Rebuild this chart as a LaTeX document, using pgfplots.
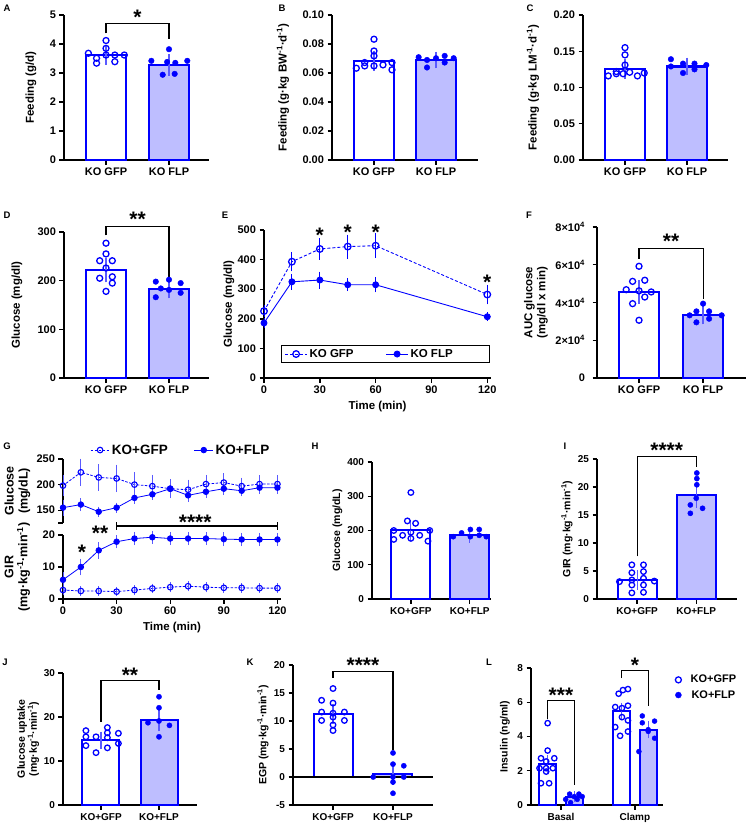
\documentclass[border=0pt]{standalone}
\usepackage{fontspec}
\setmainfont{Liberation Sans}
\usepackage{pgfplots}
\pgfplotsset{compat=1.18}
\definecolor{barfill}{RGB}{190,190,255}
\definecolor{semc}{RGB}{90,90,255}
\newcommand{\ftick}{\bfseries\fontsize{11}{12}\selectfont}
\newcommand{\fticks}{\bfseries\fontsize{10}{11}\selectfont}
\newcommand{\flab}{\bfseries\fontsize{11.5}{13}\selectfont}
\newcommand{\flabs}{\bfseries\fontsize{10.5}{12}\selectfont}
\newcommand{\inv}{\textsuperscript{-1}}
\pgfplotsset{
  gp/.style={scale only axis, clip=false, enlargelimits=false,
    axis x line*=bottom, axis y line*=left,
    axis line style={line width=1.4pt, -},
    every tick/.style={line width=1.4pt, black},
    major tick length=4.5pt, tick align=outside,
    /pgf/number format/assume math mode=true,
    scaled ticks=false,
    tick label style={font=\ftick},
    every axis y label/.style={rotate=90, anchor=center, align=center, font=\flab},
    every axis x label/.append style={font=\flab},
    anchor=south west},
  gps/.style={tick label style={font=\fticks}, every axis y label/.append style={font=\flabs}},
  gfpbar/.style={ybar, bar shift=0pt, draw=blue, fill=white, line width=2.2pt, forget plot},
  flpbar/.style={ybar, bar shift=0pt, draw=blue, fill=barfill, line width=2.2pt, forget plot},
  gfppts/.style={only marks, mark=o, mark size=#1, blue, mark options={line width=1.3pt}, forget plot},
  gfppts/.default=3pt,
  flppts/.style={only marks, mark=*, mark size=#1, blue, forget plot},
  flppts/.default=2.8pt,
  sem/.style={draw=none, mark=none, forget plot,
    error bars/y dir=both, error bars/y explicit,
    error bars/error bar style={draw=semc, line width=1.2pt, solid},
    error bars/error mark options={draw=semc, line width=1.2pt, mark size=#1, solid}},
  sem/.default=7pt,
}
\tikzset{stars/.style={anchor=north, inner sep=0pt, font=\bfseries\fontsize{21}{21}\selectfont},
  brk/.style={line width=1.1pt, black},
  plab/.style={font=\bfseries\fontsize{9.5}{10}\selectfont, inner sep=0pt, anchor=center}}
\begin{document}
\begin{tikzpicture}
\useasboundingbox (0,0) rectangle (748pt,-825pt);
% panel letters
\node[plab] at (7pt,-8pt) {A};
\node[plab] at (282pt,-8pt) {B};
\node[plab] at (530pt,-8pt) {C};
\node[plab] at (7pt,-215pt) {D};
\node[plab] at (225pt,-215pt) {E};
\node[plab] at (529pt,-215pt) {F};
\node[plab] at (7pt,-446pt) {G};
\node[plab] at (315pt,-446pt) {H};
\node[plab] at (565pt,-446pt) {I};
\node[plab] at (5pt,-662pt) {J};
\node[plab] at (250pt,-662pt) {K};
\node[plab] at (489pt,-662pt) {L};

% ---------- A ----------
\begin{axis}[gp, at={(64pt,-160pt)}, width=145pt, height=145pt,
  xmin=-0.667, xmax=1.635, ymin=0, ymax=5, xtick={0,1}, xticklabels={KO GFP,KO FLP},
  ytick={0,1,2,3,4,5}, ylabel={Feeding (g/d)}, ylabel style={at={(axis description cs:-0.228,0.5)}}]
\addplot[gfpbar, bar width=40pt] coordinates {(0,3.62)};
\addplot[flpbar, bar width=40pt] coordinates {(1,3.28)};
\addplot[sem] coordinates {(0,3.62) +- (0,0.09) (1,3.28) +- (0,0.13)};
\addplot[gfppts] coordinates {(-0.28,3.68) (-0.15,3.51) (-0.15,3.34) (0,4.12) (0,3.85) (0,3.62) (0.14,3.62) (0.14,3.39) (0.29,3.62)};
\addplot[flppts] coordinates {(0.72,3.42) (0.90,2.94) (1.0,3.82) (0.97,3.38) (1.09,2.97) (1.10,3.35) (1.29,3.42)};
\draw[brk] (axis cs:0,4.37) |- (axis cs:1,4.71) -- (axis cs:1,4.16);
\node[stars] at (axis cs:0.5,5.19) {*};
\end{axis}

% ---------- B ----------
\begin{axis}[gp, at={(332pt,-160pt)}, width=146pt, height=145pt,
  xmin=-0.677, xmax=1.677, ymin=0, ymax=0.1, xtick={0,1}, xticklabels={KO GFP,KO FLP},
  ytick={0,0.02,0.04,0.06,0.08,0.1}, yticklabels={0.00,0.02,0.04,0.06,0.08,0.10},
  ylabel={Feeding (g·kg BW\inv·d\inv)}, ylabel style={at={(axis description cs:-0.336,0.5)}}]
\addplot[gfpbar, bar width=40pt] coordinates {(0,0.0683)};
\addplot[flpbar, bar width=40pt] coordinates {(1,0.069)};
\addplot[sem] coordinates {(0,0.0683) +- (0,0.0022) (1,0.069) +- (0,0.001)};
\addplot[gfppts] coordinates {(0,0.0833) (0,0.0752) (0,0.0718) (-0.15,0.0672) (-0.285,0.0633) (-0.15,0.0649) (0,0.0649) (0.145,0.0656) (0.29,0.0672) (0.29,0.0622)};
\addplot[flppts] coordinates {(0.72,0.0709) (0.855,0.069) (0.855,0.0638) (1.0,0.0702) (1.14,0.0718) (1.14,0.0672) (1.285,0.0702)};
\end{axis}

% ---------- C ----------
\begin{axis}[gp, at={(583pt,-160pt)}, width=145pt, height=145pt,
  xmin=-0.677, xmax=1.66, ymin=0, ymax=0.2, xtick={0,1}, xticklabels={KO GFP,KO FLP},
  ytick={0,0.05,0.1,0.15,0.2}, yticklabels={0.00,0.05,0.10,0.15,0.20},
  ylabel={Feeding (g·kg LM\inv·d\inv)}, ylabel style={at={(axis description cs:-0.345,0.5)}}]
\addplot[gfpbar, bar width=40pt] coordinates {(0,0.1257)};
\addplot[flpbar, bar width=40pt] coordinates {(1,0.1289)};
\addplot[sem] coordinates {(0,0.1257) +- (0,0.004) (1,0.1289) +- (0,0.0025)};
\addplot[gfppts] coordinates {(0,0.155) (0,0.145) (0,0.131) (-0.14,0.122) (-0.27,0.116) (-0.14,0.119) (-0.03,0.119) (0.075,0.121) (0.2,0.116) (0.31,0.120)};
\addplot[flppts] coordinates {(0.74,0.139) (0.74,0.129) (0.935,0.133) (0.935,0.120) (1.12,0.133) (1.12,0.125) (1.31,0.131)};
\end{axis}

% ---------- D ----------
\begin{axis}[gp, at={(64pt,-378pt)}, width=145pt, height=146pt,
  xmin=-0.667, xmax=1.635, ymin=0, ymax=300, xtick={0,1}, xticklabels={KO GFP,KO FLP},
  ytick={0,100,200,300}, ylabel={Glucose (mg/dl)}, ylabel style={at={(axis description cs:-0.324,0.5)}}]
\addplot[gfpbar, bar width=40pt] coordinates {(0,222)};
\addplot[flpbar, bar width=40pt] coordinates {(1,183)};
\addplot[sem] coordinates {(0,222) +- (0,11) (1,183) +- (0,5)};
\addplot[gfppts] coordinates {(0,277) (0,255) (-0.1,241) (0.1,241) (0,226) (-0.1,205) (0.1,208) (0.1,195) (0,178)};
\addplot[flppts] coordinates {(0.79,198) (1.0,202) (1.185,195) (0.87,184) (1.0,181) (0.79,166) (1.185,175)};
\draw[brk] (axis cs:0,293) |- (axis cs:1,312) -- (axis cs:1,207);
\node[stars] at (axis cs:0.5,341) {**};
\end{axis}

% ---------- E ----------
\begin{axis}[gp, at={(264pt,-378pt)}, width=227pt, height=148pt,
  xmin=0, xmax=122, ymin=0, ymax=500, xtick={0,30,60,90,120}, ytick={0,100,200,300,400,500},
  xlabel={Time (min)}, ylabel={Glucose (mg/dl)}, ylabel style={at={(axis description cs:-0.154,0.5)}},
  legend style={at={(0.075,0.162)}, anchor=west, draw=black, line width=1.3pt, fill=white, font=\flab,
    legend columns=2, inner xsep=3pt, inner ysep=1.5pt, /tikz/every even column/.append style={column sep=30pt}},
  legend image code/.code={\draw[mark repeat=2, mark phase=2, #1] plot coordinates {(0pt,0pt) (11pt,0pt) (22pt,0pt)};}]
\addplot[blue, line width=0.9pt, dash pattern=on 3pt off 2pt, mark=o, mark size=3.3pt, mark options={solid, line width=1.3pt},
  error bars/.cd, y dir=both, y explicit, error bar style={solid, line width=1pt}, error mark options={solid, line width=1pt, mark size=3.5pt}]
  coordinates {(0,226) +- (0,8) (15,393) +- (0,21) (30,436) +- (0,24) (45,444) +- (0,29) (60,447) +- (0,30) (120,282) +- (0,21)};
\addlegendentry{KO GFP}
\addplot[blue, line width=0.9pt, mark=*, mark size=3pt,
  error bars/.cd, y dir=both, y explicit, error bar style={line width=1pt}, error mark options={line width=1pt, mark size=3.5pt}]
  coordinates {(0,186) +- (0,4) (15,325) +- (0,15) (30,331) +- (0,17) (45,315) +- (0,10) (60,315) +- (0,14) (120,207) +- (0,3)};
\addlegendentry{KO FLP\hspace*{32pt}}
\node[stars] at (axis cs:30,507) {*};
\node[stars] at (axis cs:45,519) {*};
\node[stars] at (axis cs:60,519) {*};
\node[stars] at (axis cs:120,348) {*};
\end{axis}

% ---------- F ----------
\begin{axis}[gp, at={(597pt,-378pt)}, width=149pt, height=151pt,
  xmin=-0.656, xmax=1.67, ymin=0, ymax=8, xtick={0,1}, xticklabels={KO GFP,KO FLP},
  ytick={0,2,4,6,8}, yticklabels={0,2×10\textsuperscript{4},4×10\textsuperscript{4},6×10\textsuperscript{4},8×10\textsuperscript{4}},
  yticklabel style={font=\bfseries\fontsize{11}{12}\selectfont, xshift=-4pt},
  ylabel={AUC glucose\\(mg/dl x min)}, ylabel style={at={(axis description cs:-0.41,0.5)}}]
\addplot[gfpbar, bar width=40pt] coordinates {(0,4.56)};
\addplot[flpbar, bar width=40pt] coordinates {(1,3.33)};
\addplot[sem] coordinates {(0,4.56) +- (0,0.25) (1,3.33) +- (0,0.12)};
\addplot[gfppts] coordinates {(0,5.92) (-0.10,5.12) (0.09,5.18) (-0.2,4.68) (0,4.62) (0.19,4.56) (0.09,4.29) (-0.10,3.94) (0,3.06)};
\addplot[flppts] coordinates {(1.0,3.94) (0.896,3.53) (1.094,3.53) (0.79,3.32) (1.29,3.32) (0.896,2.95) (1.094,3.14)};
\draw[brk] (axis cs:0,6.33) |- (axis cs:1,6.86) -- (axis cs:1,4.2);
\node[stars] at (axis cs:0.5,7.65) {**};
\end{axis}

% ---------- G upper ----------
\begin{axis}[gp, at={(63pt,-523pt)}, width=218pt, height=64pt,
  xmin=0, xmax=122, ymin=125, ymax=250, axis x line=none,
  ytick={125,150,200,250}, yticklabels={,150,200,250},
  ylabel={Glucose\\(mg/dL)}, ylabel style={at={(axis description cs:-0.209,0.5)}, font=\bfseries\fontsize{12.5}{14}\selectfont},
  legend style={at={(0.11,1.14)}, anchor=west, draw=none, fill=none, font=\bfseries\fontsize{13.5}{15}\selectfont,
    legend columns=2, /tikz/every even column/.append style={column sep=24pt}},
  legend image code/.code={\draw[mark repeat=2, mark phase=2, #1] plot coordinates {(0pt,0pt) (9.5pt,0pt) (19pt,0pt)};}]
\addplot[blue, line width=0.8pt, dash pattern=on 2.5pt off 1.5pt, mark=o, mark size=2.8pt, mark options={solid, line width=1.1pt},
  error bars/.cd, y dir=both, y explicit, error bar style={solid, line width=0.9pt, semc}, error mark options={solid, line width=0.9pt, mark size=3.5pt, semc}]
  coordinates {(0,198) +- (0,14) (10,224) +- (0,20) (20,214) +- (0,19) (30,212) +- (0,20) (40,200) +- (0,17) (50,197) +- (0,15) (60,192) +- (0,12) (70,190) +- (0,13) (80,201) +- (0,11) (90,204) +- (0,11) (100,197) +- (0,10) (110,201) +- (0,10) (120,201) +- (0,10)};
\addlegendentry{KO+GFP}
\addplot[blue, line width=0.8pt, mark=*, mark size=2.8pt,
  error bars/.cd, y dir=both, y explicit, error bar style={line width=0.9pt, semc}, error mark options={line width=0.9pt, mark size=3.5pt, semc}]
  coordinates {(0,155) +- (0,9) (10,161) +- (0,6) (20,147) +- (0,3) (30,155) +- (0,3) (40,174) +- (0,5) (50,181) +- (0,4) (60,192) +- (0,8) (70,179) +- (0,6) (80,186) +- (0,5) (90,192) +- (0,5) (100,188) +- (0,4) (110,194) +- (0,5) (120,194) +- (0,5)};
\addlegendentry{KO+FLP}
\end{axis}

% ---------- G lower ----------
\begin{axis}[gp, at={(63pt,-599pt)}, width=218pt, height=64pt,
  xmin=0, xmax=122, ymin=0, ymax=20, xtick={0,30,60,90,120}, ytick={0,10,20},
  xlabel={Time (min)},
  ylabel={GIR\\(mg·kg\inv·min\inv)}, ylabel style={at={(axis description cs:-0.209,0.5)}, font=\bfseries\fontsize{12.5}{14}\selectfont}]
\addplot[blue, line width=0.8pt, dash pattern=on 2.5pt off 1.5pt, mark=o, mark size=2.8pt, mark options={solid, line width=1.1pt},
  error bars/.cd, y dir=both, y explicit, error bar style={solid, line width=0.9pt, semc}, error mark options={solid, line width=0.9pt, mark size=3.5pt, semc}]
  coordinates {(0,2.8) +- (0,0.6) (10,2.5) +- (0,0.4) (20,2.5) +- (0,0.4) (30,2.3) +- (0,0.4) (40,2.8) +- (0,0.4) (50,3.3) +- (0,0.4) (60,3.7) +- (0,0.5) (70,4.0) +- (0,0.5) (80,3.7) +- (0,0.5) (90,3.5) +- (0,0.4) (100,3.5) +- (0,0.4) (110,3.4) +- (0,0.4) (120,3.4) +- (0,0.4)};
\addplot[blue, line width=0.8pt, mark=*, mark size=2.8pt,
  error bars/.cd, y dir=both, y explicit, error bar style={line width=0.9pt, semc}, error mark options={line width=0.9pt, mark size=3.5pt, semc}]
  coordinates {(0,6.0) +- (0,1.3) (10,10.0) +- (0,1.5) (20,15.2) +- (0,1.5) (30,17.9) +- (0,1) (40,18.9) +- (0,1) (50,19.3) +- (0,1) (60,18.9) +- (0,1) (70,18.9) +- (0,1) (80,18.9) +- (0,1) (90,18.7) +- (0,1.1) (100,18.6) +- (0,1) (110,18.6) +- (0,1) (120,18.6) +- (0,1)};
\draw[brk] (axis cs:30,22.8) -- (axis cs:120,22.8);
\draw[brk] (axis cs:30,21.6) -- (axis cs:30,24.0);
\draw[brk] (axis cs:120,21.6) -- (axis cs:120,24.0);
\node[stars] at (axis cs:74,26.2) {****};
\node[stars] at (axis cs:20.8,22.8) {**};
\node[stars] at (axis cs:10.6,16.9) {*};
\end{axis}

% ---------- H ----------
\begin{axis}[gp, gps, at={(372pt,-599pt)}, width=119pt, height=137pt,
  xmin=-0.66, xmax=1.36, ymin=0, ymax=400, xtick={0,1}, xticklabels={KO+GFP,KO+FLP},
  ytick={0,100,200,300,400}, ylabel={Glucose (mg/dL)}, ylabel style={at={(axis description cs:-0.29,0.5)}}]
\addplot[gfpbar, bar width=39pt, line width=2pt] coordinates {(0,201)};
\addplot[flpbar, bar width=39pt, line width=2pt] coordinates {(1,186)};
\addplot[sem=6.5pt] coordinates {(0,201) +- (0,12) (1,186) +- (0,3)};
\addplot[gfppts=2.8pt] coordinates {(0,311) (-0.06,228) (0.08,221) (-0.29,200) (0.32,200) (0,195) (-0.14,186) (0.15,186) (0,177) (-0.29,174) (0.29,169)};
\addplot[flppts=2.6pt] coordinates {(1.01,203) (1.16,203) (0.86,193) (0.72,182) (1.01,182) (1.28,182) (1.16,186)};
\end{axis}

% ---------- I ----------
\begin{axis}[gp, gps, at={(597pt,-599pt)}, width=140pt, height=140pt,
  xmin=-0.68, xmax=1.69, ymin=0, ymax=25, xtick={0,1}, xticklabels={KO+GFP,KO+FLP},
  ytick={0,5,10,15,20,25}, ylabel={GIR (mg·kg\inv·min\inv)}, ylabel style={at={(axis description cs:-0.214,0.5)}}]
\addplot[gfpbar, bar width=39pt, line width=2pt] coordinates {(0,3.4)};
\addplot[flpbar, bar width=39pt, line width=2pt] coordinates {(1,18.6)};
\addplot[sem=6.5pt] coordinates {(0,3.4) +- (0,0.6) (1,18.6) +- (0,1.1)};
\addplot[gfppts=2.8pt] coordinates {(-0.09,6.1) (0.107,6.1) (-0.09,4.7) (0.107,4.9) (0.107,3.7) (-0.09,3.4) (-0.3,3.1) (0.29,3.2) (-0.09,2.5) (0.107,2.5) (-0.09,1.1) (0.107,1.2)};
\addplot[flppts=2.6pt] coordinates {(1.01,22.5) (1.01,21.5) (1.01,20.4) (1.0,18.0) (0.9,16.8) (1.107,16.2) (0.9,15.3)};
\draw[brk] (axis cs:0,7.6) |- (axis cs:1,25.4) -- (axis cs:1,23.6);
\node[stars] at (axis cs:0.5,27.9) {****};
\end{axis}

% ---------- J ----------
\begin{axis}[gp, gps, at={(63pt,-805pt)}, width=134pt, height=132pt,
  xmin=-0.655, xmax=1.655, ymin=0, ymax=30, xtick={0,1}, xticklabels={KO+GFP,KO+FLP},
  ytick={0,10,20,30}, ylabel={Glucose uptake\\(mg·kg\inv·min\inv)}, ylabel style={at={(axis description cs:-0.26,0.5)}}]
\addplot[gfpbar, bar width=37pt, line width=2pt] coordinates {(0,14.7)};
\addplot[flpbar, bar width=37pt, line width=2pt] coordinates {(1,19.4)};
\addplot[sem=6.5pt] coordinates {(0,14.7) +- (0,0.5) (1,19.4) +- (0,1.2)};
\addplot[gfppts=2.8pt] coordinates {(-0.26,16.9) (0.11,17.6) (0.11,16.4) (0.3,16.3) (-0.086,15.5) (-0.26,15.5) (0.11,15.3) (0.3,14.0) (-0.26,13.5) (0.11,13.0) (-0.086,11.9)};
\addplot[flppts=2.6pt] coordinates {(1.0,24.6) (1.0,22.1) (1.0,19.1) (0.81,18.7) (1.18,18.1) (1.0,15.5)};
\draw[brk] (axis cs:0,18.9) |- (axis cs:1,28.2) -- (axis cs:1,26.2);
\node[stars] at (axis cs:0.5,31.1) {**};
\end{axis}

% ---------- K ----------
\begin{axis}[gp, gps, at={(293pt,-805pt)}, width=140pt, height=140pt,
  xmin=-0.667, xmax=1.667, ymin=-5, ymax=20, xtick={0,1}, xticklabels={KO+GFP,KO+FLP},
  ytick={-5,0,5,10,15,20}, yticklabels={-5,0,5,10,15,20},
  ylabel={EGP (mg·kg\inv·min\inv)}, ylabel style={at={(axis description cs:-0.214,0.5)}}]
\addplot[gfpbar, bar width=39pt, line width=2pt] coordinates {(0,11.3)};
\addplot[flpbar, bar width=39pt, line width=2pt] coordinates {(1,0.6)};
\draw[line width=1.4pt] (axis cs:-0.667,0) -- (axis cs:1.667,0);
\addplot[sem=6.5pt] coordinates {(0,11.3) +- (0,0.65) (1,0.6) +- (0,0.9)};
\addplot[gfppts=2.8pt] coordinates {(0,15.8) (-0.19,13.7) (0,13.2) (-0.19,11.6) (0.19,11.6) (0,11.4) (0,10.7) (-0.19,10.1) (0.19,10.1) (0,9.3) (0,8.3)};
\addplot[flppts=2.6pt] coordinates {(1.0,4.3) (1.0,2.3) (1.18,2.0) (0.67,0.0) (1.0,0.0) (1.18,0.0) (1.0,-0.9) (1.0,-2.9)};
\draw[brk] (axis cs:0,17.7) |- (axis cs:1,18.9) -- (axis cs:1,4.8);
\node[stars] at (axis cs:0.5,21.25) {****};
\end{axis}

% ---------- L ----------
\begin{axis}[gp, gps, at={(531pt,-805pt)}, width=132pt, height=137pt,
  xmin=-0.405, xmax=1.38, ymin=0, ymax=8, xtick={0,1}, xticklabels={Basal,Clamp},
  ytick={0,2,4,6,8}, ylabel={Insulin (ng/ml)}, ylabel style={at={(axis description cs:-0.197,0.5)}},
  legend style={at={(1.053,0.858)}, anchor=west, draw=none, fill=none, font=\bfseries\fontsize{11}{12}\selectfont, row sep=2pt},
  legend image code/.code={\draw[#1] plot coordinates {(0pt,0pt)}; \path (-5pt,0pt) (10pt,0pt);}]
\addplot[gfpbar, bar width=17pt, line width=1.9pt] coordinates {(-0.18,2.38) (0.82,5.5)};
\addplot[flpbar, bar width=17pt, line width=1.9pt] coordinates {(0.18,0.49) (1.18,4.4)};
\addplot[sem=4pt] coordinates {(-0.18,2.38) +- (0,0.3) (0.18,0.49) +- (0,0.07) (0.82,5.5) +- (0,0.25) (1.18,4.4) +- (0,0.27)};
\addplot[gfppts=2.7pt] coordinates {(-0.18,4.78) (-0.18,3.18) (-0.27,2.73) (-0.09,2.73) (-0.20,2.54) (-0.29,2.15) (-0.20,2.15) (-0.11,2.15) (-0.20,1.95) (-0.27,1.27) (-0.16,1.27)
  (0.906,6.77) (0.838,6.71) (0.78,6.5) (0.906,5.8) (0.734,5.72) (0.825,5.66) (0.825,5.13) (0.906,4.94) (0.734,4.55) (0.906,4.29) (0.80,4.04)};
\addplot[flppts=2.5pt] coordinates {(0.117,0.64) (0.243,0.64) (0.18,0.49) (0.288,0.49) (0.063,0.33) (0.22,0.33) (0.13,0.14)
  (1.10,5.2) (1.266,4.9) (1.10,4.8) (1.18,4.4) (1.18,4.3) (1.266,3.9) (1.054,3.12)};
\draw[brk] (axis cs:-0.18,5.0) |- (axis cs:0.18,6.1) -- (axis cs:0.18,1.17);
\node[stars] at (axis cs:0,6.83) {***};
\draw[brk] (axis cs:0.82,7.41) |- (axis cs:1.18,7.84) -- (axis cs:1.18,5.76);
\node[stars] at (axis cs:1,8.58) {*};
\addlegendimage{only marks, mark=o, blue, mark size=3pt, mark options={line width=1.3pt}}
\addlegendentry{KO+GFP}
\addlegendimage{only marks, mark=*, blue, mark size=3pt}
\addlegendentry{KO+FLP}
\end{axis}
\end{tikzpicture}
\end{document}
